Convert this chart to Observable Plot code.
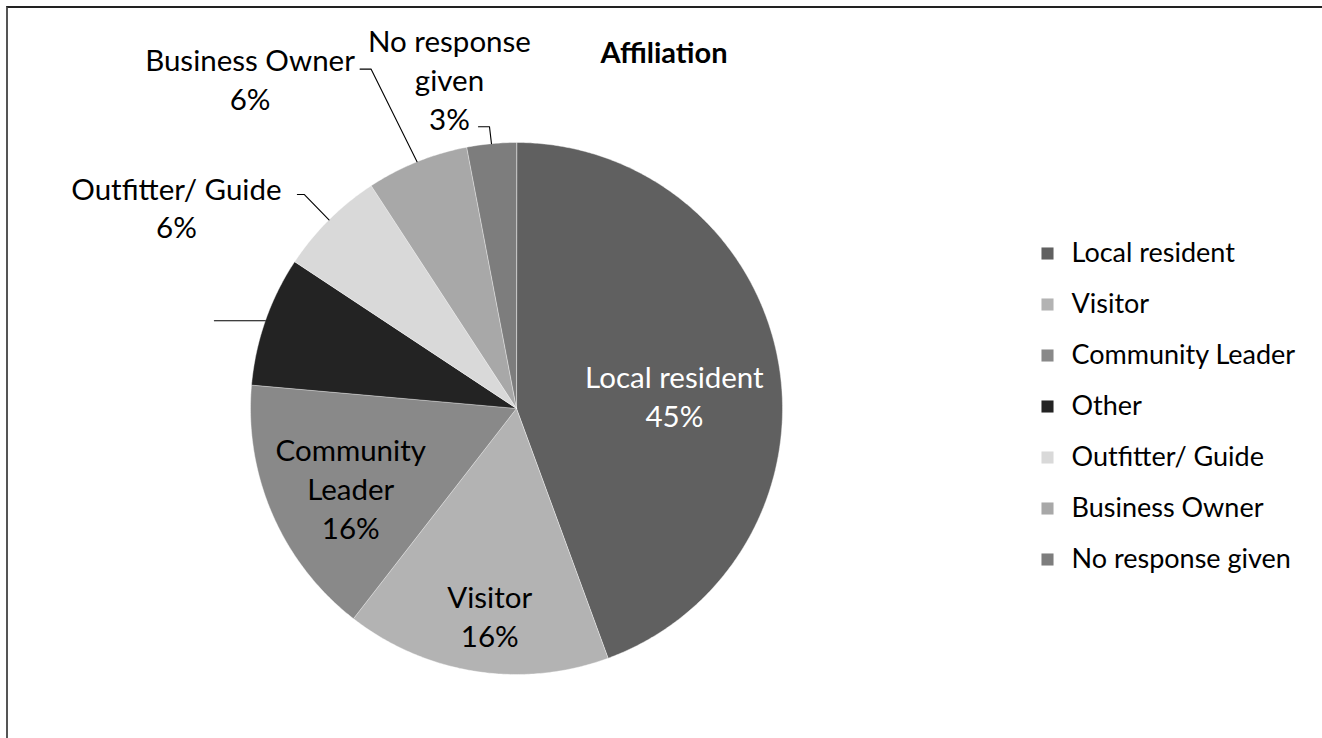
<!DOCTYPE html>
<html>
<head>
<meta charset="utf-8">
<script src="https://cdn.jsdelivr.net/npm/d3@7"></script>
<script src="https://cdn.jsdelivr.net/npm/@observablehq/plot@0.6"></script>
<style>
  html, body { margin: 0; padding: 0; background: #fff; }
  #wrap { position: relative; width: 1322px; height: 738px; overflow: hidden; font-family: Lato, "Open Sans", sans-serif; }
  #frame { position: absolute; left: 6px; top: 6px; right: -10px; bottom: -10px; border-top: 2px solid #222; border-left: 2px solid #555; pointer-events: none; }
  #title { position: absolute; top: 34px; left: 514px; width: 300px; text-align: center; font-weight: bold; font-size: 29px; color: #000; line-height: 36px; }
  #chart { position: absolute; left: 0; top: 0; }
  #legend { position: absolute; left: 1040px; top: 226px; }
</style>
</head>
<body>
<div id="wrap">
  <div id="chart"></div>
  <div id="legend"></div>
  <div id="title">Affiliation</div>
  <div id="frame"></div>
</div>
<script>
// ---- data ----
const categories = ["Local resident", "Visitor", "Community Leader", "Other", "Outfitter/ Guide", "Business Owner", "No response given"];
const shares = [44.4, 16.1, 15.9, 7.9, 6.5, 6.2, 3.0];
const percentLabels = ["45%", "16%", "16%", "8%", "6%", "6%", "3%"];
const sliceNames = ["Local resident", "Visitor", "Community\nLeader", "", "Outfitter/ Guide", "Business Owner", "No response\ngiven"];
const colors = ["#606060", "#b3b3b3", "#898989", "#232323", "#d9d9d9", "#a8a8a8", "#7d7d7d"];

// ---- annotation layout (pixel nudges relative to each slice's rim mid-point) ----
const R = 266;
const labelNudge = [[-104, 33.5], [14, -56], [78, -27.4], null, [-152.6, -13.3], [-167, -84], [-42, -65]];
const leaderNudge = [null, null, null, [[-51, 0]], [[-24.6, -25.3], [-31.6, -25.3]], [[-46, -92.7], [-57, -92.7]], [[-2, -17], [-13, -17]]];

const total = d3.sum(shares);
let acc = 0;
const slices = shares.map((v, i) => {
  const a0 = acc / total * 2 * Math.PI;
  acc += v;
  const a1 = acc / total * 2 * Math.PI;
  return {i, cat: categories[i], a0, a1, mid: (a0 + a1) / 2};
});

// polygons for slices (unit circle, y pointing down)
const polyRows = [];
for (const s of slices) {
  polyRows.push({cat: s.cat, x: 0, y: 0});
  const n = Math.max(4, Math.ceil((s.a1 - s.a0) / (Math.PI / 360)));
  for (let j = 0; j <= n; j++) {
    const t = s.a0 + (s.a1 - s.a0) * j / n;
    polyRows.push({cat: s.cat, x: Math.sin(t), y: -Math.cos(t)});
  }
}

const labelRows = slices.filter(s => labelNudge[s.i]).map(s => ({
  i: s.i,
  x: Math.sin(s.mid) + labelNudge[s.i][0] / R,
  y: -Math.cos(s.mid) + labelNudge[s.i][1] / R,
  text: sliceNames[s.i] + "\n" + percentLabels[s.i]
}));

const leaderRows = [];
for (const s of slices) {
  const ln = leaderNudge[s.i];
  if (!ln) continue;
  const rx = Math.sin(s.mid), ry = -Math.cos(s.mid);
  leaderRows.push({cat: s.cat, x: rx, y: ry});
  for (const p of ln) leaderRows.push({cat: s.cat, x: rx + p[0] / R, y: ry + p[1] / R});
}

const font = "Lato, 'Open Sans', sans-serif";

const chart = Plot.plot({
  width: 1322,
  height: 738,
  margin: 0,
  style: {fontFamily: font, background: "transparent"},
  x: {domain: [-1, 1], range: [250, 782], axis: null},
  y: {domain: [-1, 1], range: [142, 674], axis: null},
  color: {domain: categories, range: colors},
  marks: [
    Plot.line(polyRows, {x: "x", y: "y", z: "cat", fill: "cat", stroke: "#ffffff", strokeWidth: 0.6, strokeOpacity: 0.7, curve: "linear-closed"}),
    Plot.line(leaderRows, {x: "x", y: "y", z: "cat", stroke: "#000", strokeWidth: 1.1}),
    Plot.text(labelRows.filter(d => d.i === 0), {x: "x", y: "y", text: "text", fill: "#fff", fontSize: 29.5, lineHeight: 1.32, fontFamily: font}),
    Plot.text(labelRows.filter(d => d.i !== 0), {x: "x", y: "y", text: "text", fill: "#000", fontSize: 29.5, lineHeight: 1.32, fontFamily: font})
  ]
});
document.getElementById("chart").appendChild(chart);

const legend = Plot.plot({
  width: 282,
  height: 360,
  margin: 0,
  style: {fontFamily: font, background: "transparent"},
  y: {type: "point", domain: categories, range: [26, 334], padding: 0, axis: null},
  color: {domain: categories, range: colors},
  marks: [
    Plot.dot(categories, {y: d => d, frameAnchor: "left", dx: 7, symbol: "square", r: 6.8, fill: d => d, stroke: null}),
    Plot.text(categories, {y: d => d, frameAnchor: "left", dx: 31, textAnchor: "start", text: d => d, fill: "#000", fontSize: 27, fontFamily: font})
  ]
});
document.getElementById("legend").appendChild(legend);
</script>
</body>
</html>
